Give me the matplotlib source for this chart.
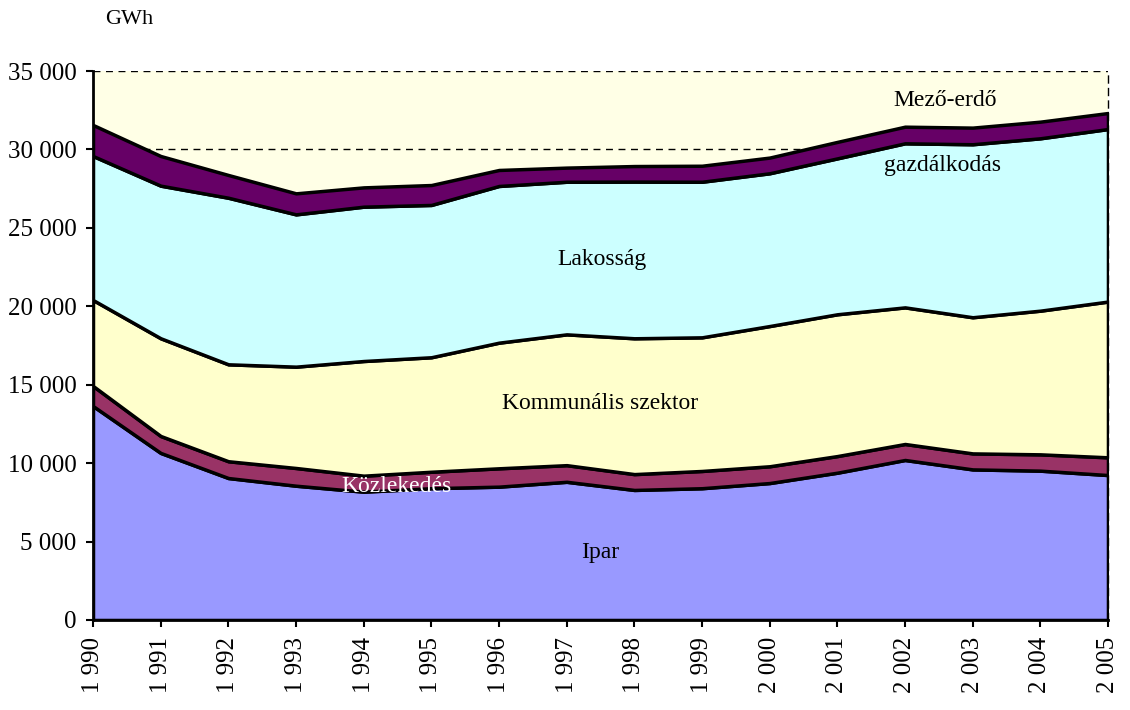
import matplotlib.pyplot as plt
from matplotlib.ticker import FuncFormatter, MultipleLocator

years = list(range(1990, 2006))

# GWh (layer thickness)
ipar = [13640, 10650, 9050, 8560, 8180, 8400, 8500, 8810, 8290, 8400, 8730, 9390, 10200, 9600, 9520, 9240]
kozlekedes = [1280, 1080, 1070, 1130, 1020, 1050, 1170, 1060, 1010, 1100, 1070, 1060, 1020, 1020, 1040, 1130]
kommunalis = [5480, 6230, 6180, 6460, 7310, 7300, 8010, 8340, 8660, 8520, 8940, 9040, 8710, 8680, 9160, 9930]
lakossag = [9180, 9730, 10620, 9710, 9840, 9710, 9990, 9730, 9990, 9920, 9740, 9940, 10460, 11030, 10990, 11000]
mezo_erdo = [1980, 1890, 1450, 1340, 1230, 1270, 1020, 900, 990, 1020, 1000, 1050, 1060, 1060, 1060, 1020]

colors = ["#9999FF", "#993366", "#FFFFCC", "#CCFFFF", "#660066"]

plt.rcParams["font.family"] = ["Liberation Serif", "DejaVu Serif"]

fig = plt.figure(figsize=(11.3, 7.1), dpi=100)
ax = fig.add_axes([0.0823, 0.1268, 0.8982, 0.7732])
ax.set_facecolor("#FFFFE6")

# gridlines sit behind the areas, so only the top ones show
for gy in range(5000, 35001, 5000):
    ax.axhline(gy, color="black", lw=1, ls=(0, (5, 4)), zorder=0)

ax.stackplot(years, ipar, kozlekedes, kommunalis, lakossag, mezo_erdo,
             colors=colors, edgecolor="black", linewidth=2.5, zorder=2)

ax.set_xlim(1990, 2005)
ax.set_ylim(0, 35000)
ax.yaxis.set_major_locator(MultipleLocator(5000))
ax.set_xticks(years)

def thousands(v, pos=None):
    return f"{int(v):,}".replace(",", " ")

ax.yaxis.set_major_formatter(FuncFormatter(thousands))
ax.set_xticklabels([thousands(y) for y in years], rotation=90)
ax.tick_params(axis="both", labelsize=18, length=5, width=1.5, direction="out", color="black")
ax.tick_params(axis="y", pad=7)
ax.tick_params(axis="x", pad=7)

ax.spines["top"].set_visible(False)
ax.spines["right"].set_linestyle((0, (5, 4)))
ax.spines["right"].set_linewidth(1)
ax.spines["left"].set_linewidth(2)
ax.spines["bottom"].set_linewidth(2)
ax.spines["left"].set_zorder(3)
ax.spines["bottom"].set_zorder(3)

# layer labels
fs = 17
ax.text(2002.6, 33100, "Mező-erdő", ha="center", va="center", fontsize=fs, zorder=5)
ax.text(2002.56, 29000, "gazdálkodás", ha="center", va="center", fontsize=fs, zorder=5)
ax.text(1997.52, 23000, "Lakosság", ha="center", va="center", fontsize=fs, zorder=5)
ax.text(1997.5, 13770, "Kommunális szektor", ha="center", va="center", fontsize=fs, zorder=5)
ax.text(1994.48, 8480, "Közlekedés", ha="center", va="center", fontsize=fs, color="white", zorder=5)
ax.text(1997.5, 4270, "Ipar", ha="center", va="center", fontsize=fs, zorder=5)

fig.text(105 / 1130, 1 - 20 / 710, "GWh", ha="left", va="center", fontsize=16)

fig.savefig("out.png", dpi=100)
plt.close(fig)
